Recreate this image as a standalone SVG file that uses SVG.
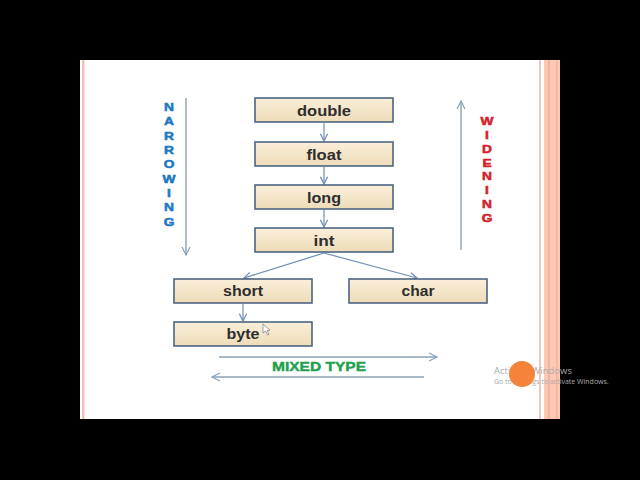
<svg xmlns="http://www.w3.org/2000/svg" width="640" height="480" viewBox="0 0 640 480">
<defs>
<linearGradient id="boxfill" x1="0" y1="0" x2="0" y2="1">
<stop offset="0" stop-color="#FAEFDA"/>
<stop offset="1" stop-color="#EEDCB8"/>
</linearGradient>
<marker id="ah" viewBox="0 0 10 10" refX="9" refY="5" markerWidth="9" markerHeight="9" markerUnits="userSpaceOnUse" orient="auto">
<path d="M1,1 L9,5 L1,9" fill="none" stroke="#6F8FB5" stroke-width="1.4"/>
</marker>
<marker id="ah2" viewBox="0 0 10 10" refX="9" refY="5" markerWidth="10" markerHeight="10" markerUnits="userSpaceOnUse" orient="auto">
<path d="M1,1 L9,5 L1,9" fill="none" stroke="#8CA2B8" stroke-width="1.2"/>
</marker>
</defs>
<style>
.box{fill:url(#boxfill);stroke:#4D6582;stroke-width:1.6}
.lbl{font-family:"Liberation Sans",Arial,sans-serif;font-weight:bold;font-size:14px;fill:#2E2E2E;text-anchor:middle}
.con{stroke:#6F8FB5;stroke-width:1.2;fill:none;marker-end:url(#ah)}
.side{stroke:#8CA2B8;stroke-width:1.4;fill:none;marker-end:url(#ah2)}
.vt{font-family:"Liberation Sans",Arial,sans-serif;font-weight:bold;font-size:11px;text-anchor:middle;stroke-width:0.5}
</style>
<rect x="0" y="0" width="640" height="480" fill="#000"/>
<rect x="80" y="60" width="480" height="359" fill="#FFFFFF"/>
<rect x="82" y="60" width="2.5" height="359" fill="#F2C3B4"/>
<rect x="539" y="60" width="2" height="359" fill="#EBC9C0"/>
<rect x="544" y="60" width="16" height="359" fill="#FDC9B4"/>
<rect x="548" y="60" width="2" height="359" fill="#F6B39B"/>
<rect x="556" y="60" width="1.5" height="359" fill="#F6B39B"/>

<g id="connectors">
<line class="con" x1="324" y1="123" x2="324" y2="141"/>
<line class="con" x1="324" y1="167" x2="324" y2="184"/>
<line class="con" x1="324" y1="210" x2="324" y2="227"/>
<line class="con" x1="324" y1="253" x2="244" y2="278"/>
<line class="con" x1="324" y1="253" x2="417" y2="278"/>
<line class="con" x1="243" y1="304" x2="243" y2="321"/>
<line class="side" x1="186" y1="98" x2="186" y2="255"/>
<line class="side" x1="461" y1="250" x2="461" y2="101"/>
<line class="side" x1="219" y1="357" x2="437" y2="357"/>
<line class="side" x1="424" y1="377" x2="212" y2="377"/>
</g>

<g id="double"><rect class="box" x="255" y="98" width="138" height="24"/><text class="lbl" x="324" y="116" textLength="54" lengthAdjust="spacingAndGlyphs">double</text></g>
<g id="float"><rect class="box" x="255" y="142" width="138" height="24"/><text class="lbl" x="324" y="160" textLength="35" lengthAdjust="spacingAndGlyphs">float</text></g>
<g id="long"><rect class="box" x="255" y="185" width="138" height="24"/><text class="lbl" x="324" y="203" textLength="34" lengthAdjust="spacingAndGlyphs">long</text></g>
<g id="int"><rect class="box" x="255" y="228" width="138" height="24"/><text class="lbl" x="324" y="246" textLength="21" lengthAdjust="spacingAndGlyphs">int</text></g>
<g id="short"><rect class="box" x="174" y="279" width="138" height="24"/><text class="lbl" x="243" y="296" textLength="40" lengthAdjust="spacingAndGlyphs">short</text></g>
<g id="char"><rect class="box" x="349" y="279" width="138" height="24"/><text class="lbl" x="418" y="296" textLength="33" lengthAdjust="spacingAndGlyphs">char</text></g>
<g id="byte"><rect class="box" x="174" y="322" width="138" height="24"/><text class="lbl" x="243" y="339" textLength="33" lengthAdjust="spacingAndGlyphs">byte</text></g>

<g id="narrowing" fill="#1B78C2" stroke="#1B78C2" transform="translate(169 0) scale(1.25 1)">
<text class="vt" x="0" y="111">N</text>
<text class="vt" x="0" y="125.5">A</text>
<text class="vt" x="0" y="140">R</text>
<text class="vt" x="0" y="154">R</text>
<text class="vt" x="0" y="168.5">O</text>
<text class="vt" x="0" y="183">W</text>
<text class="vt" x="0" y="197">I</text>
<text class="vt" x="0" y="211.5">N</text>
<text class="vt" x="0" y="226">G</text>
</g>
<g id="widening" fill="#D3202C" stroke="#D3202C" transform="translate(487 0) scale(1.25 1)">
<text class="vt" x="0" y="125">W</text>
<text class="vt" x="0" y="139">I</text>
<text class="vt" x="0" y="153">D</text>
<text class="vt" x="0" y="167">E</text>
<text class="vt" x="0" y="180.5">N</text>
<text class="vt" x="0" y="194.5">I</text>
<text class="vt" x="0" y="208.5">N</text>
<text class="vt" x="0" y="222">G</text>
</g>
<g id="mixed">
<text x="319" y="371" font-family="'Liberation Sans',Arial,sans-serif" font-weight="bold" font-size="12.5" fill="#1FA04E" stroke="#1FA04E" stroke-width="0.4" text-anchor="middle" textLength="94" lengthAdjust="spacingAndGlyphs">MIXED TYPE</text>
</g>

<g id="watermark" font-family="'Open Sans','Liberation Sans',sans-serif" fill="#A9A9A9">
<text x="494" y="374" font-size="9.5">Activate Windows</text>
<text x="494" y="384" font-size="7">Go to Settings to activate Windows.</text>
</g>
<circle cx="522" cy="374" r="13" fill="#F5843A"/>
<path d="M263,324 L263,333 L265.5,331 L267.5,335 L269,334.3 L267,330.5 L270,330.2 Z" fill="#FFFFFF" stroke="#777" stroke-width="0.7"/>
</svg>
